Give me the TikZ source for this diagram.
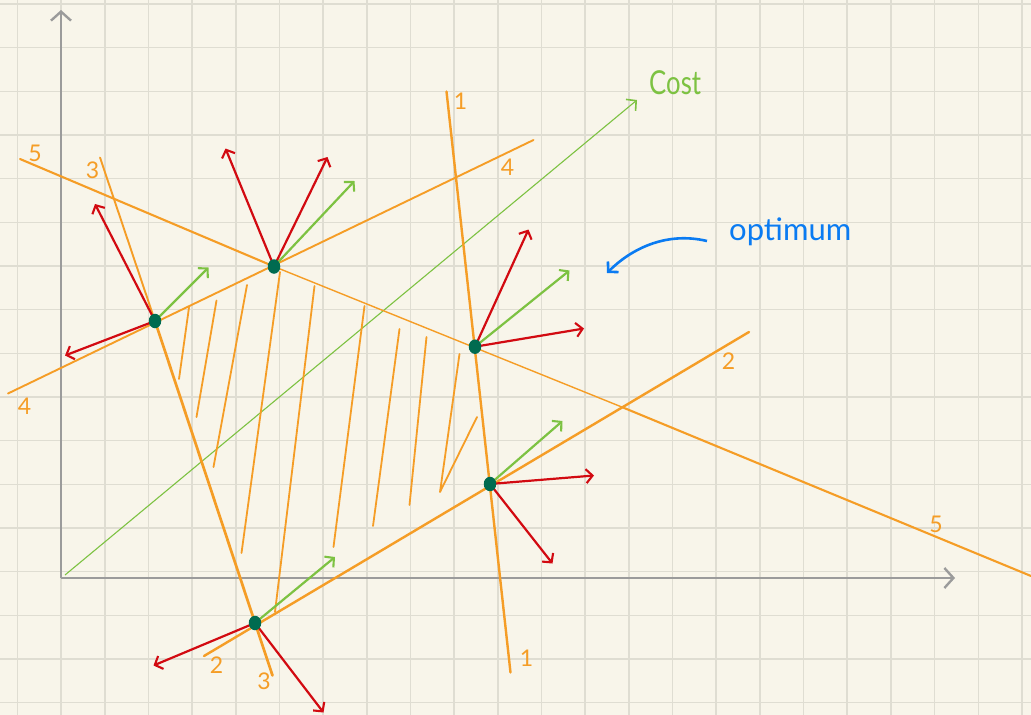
\documentclass[tikz,border=0pt]{standalone}
\usepackage{fontspec}
\setmainfont{Lato}
\usetikzlibrary{arrows.meta,shapes.geometric}
\definecolor{bg}{HTML}{F8F5EA}
\definecolor{gridc}{HTML}{DFDDD2}
\definecolor{axisc}{HTML}{9B9B9B}
\definecolor{orng}{HTML}{F59D26}
\definecolor{redv}{HTML}{D20A11}
\definecolor{grnv}{HTML}{7DC242}
\definecolor{dotc}{HTML}{006B50}
\definecolor{bluec}{HTML}{0A7BF2}
\tikzset{
  gridline/.style={draw=gridc, line width=1.5pt},
  axisline/.style={draw=axisc, line width=2.4pt, -{Straight Barb[length=9pt,width=20pt,line width=2.4pt]}},
  cline/.style={draw=orng, line width=2.4pt, line cap=round},
  clinethin/.style={draw=orng, line width=1.4pt},
  hatch/.style={draw=orng, line width=1.8pt, line cap=round, line join=round},
  redvec/.style={draw=redv, line width=2.2pt, -{Straight Barb[length=6.5pt,width=14pt,line width=2.1pt]}},
  grnvec/.style={draw=grnv, line width=2.2pt, -{Straight Barb[length=6.5pt,width=14pt,line width=2.1pt]}},
  costline/.style={draw=grnv, line width=1.1pt, -{Straight Barb[length=7pt,width=15pt,line width=1.6pt]}},
  bluearrow/.style={draw=bluec, line width=2.6pt, -{Straight Barb[length=7pt,width=15pt,line width=2.6pt]}},
  vdot/.style={ellipse, fill=dotc, inner sep=0pt, minimum width=12.5pt, minimum height=14.5pt},
  lbl/.style={text=orng, inner sep=0pt, font=\fontsize{23}{23}\selectfont},
}
\begin{document}
\begin{tikzpicture}[x=1pt,y=-1pt]
\fill[bg] (0,0) rectangle (1031,715);
\useasboundingbox (0,0) rectangle (1031,715);
\begin{scope}
\clip (0,0) rectangle (1031,715);
% grid
\foreach \k in {0,...,23} {\draw[gridline] ({17.5+43.67*\k},0) -- ({17.5+43.67*\k},715);}
\foreach \k in {0,...,16} {\draw[gridline] (0,{4+43.67*\k}) -- (1031,{4+43.67*\k});}

% axes
\coordinate (O) at (61,578);
\coordinate (ytip) at (61,10);
\coordinate (xtip) at (955,578);
\draw[axisline] (O) -- (ytip);
\draw[axisline] (O) -- (xtip);

% cost direction
\coordinate (cs) at (65,575);
\coordinate (ce) at (637,100);
\draw[costline] (cs) -- (ce);

% vertices
\coordinate (V1) at (155,321);
\coordinate (V2) at (274,266.5);
\coordinate (V3) at (475,346.7);
\coordinate (V4) at (490,484);
\coordinate (V5) at (255,623);

% constraint lines
\coordinate (a1) at (446.5,91.5);  \coordinate (b1) at (510.5,672.5);
\coordinate (a2) at (204,656);     \coordinate (b2) at (749,332);
\coordinate (a3) at (100,157.5);   \coordinate (b3) at (272.5,675.5);
\coordinate (a4) at (8,393.5);     \coordinate (b4) at (533.5,140);
\coordinate (a5) at (20,159);      \coordinate (b5) at (1031,576);
\coordinate (m5) at (623,407.5);
\draw[cline] (a1) -- (b1);
\draw[cline] (a2) -- (b2);
\draw[cline, line width=1.9pt] (a3) -- (V1);
\draw[cline, line width=2.7pt] (V1) -- (b3);
\draw[cline, line width=1.9pt] (a4) -- (b4);
\draw[cline, line width=2.1pt] (a5) -- (V2);
\draw[clinethin] (V2) -- (m5);
\draw[cline, line width=2.1pt] (m5) -- (b5);

% hatching
\coordinate (h1a) at (189,307.5);  \coordinate (h1b) at (179,379);
\coordinate (h2a) at (216.5,300.5);\coordinate (h2b) at (196.5,417);
\coordinate (h3a) at (247,285);    \coordinate (h3b) at (213.5,467);
\coordinate (h4a) at (280,272);    \coordinate (h4b) at (241.5,553);
\coordinate (h5a) at (314.5,286);  \coordinate (h5b) at (275,612);
\coordinate (h6a) at (364.5,306);  \coordinate (h6b) at (333.5,547);
\coordinate (h7a) at (399.5,329);  \coordinate (h7b) at (373,526);
\coordinate (h8a) at (426.5,337);  \coordinate (h8b) at (409.5,505);
\coordinate (h9a) at (459.5,354);  \coordinate (h9b) at (440,492); \coordinate (h9c) at (477,417);
\draw[hatch] (h1a) -- (h1b);
\draw[hatch] (h2a) -- (h2b);
\draw[hatch] (h3a) -- (h3b);
\draw[hatch] (h4a) -- (h4b);
\draw[hatch] (h5a) -- (h5b);
\draw[hatch] (h6a) -- (h6b);
\draw[hatch] (h7a) -- (h7b);
\draw[hatch] (h8a) -- (h8b);
\draw[hatch] (h9a) -- (h9b) -- (h9c);

% vectors at V1
\coordinate (r1a) at (95,204);    \coordinate (r1b) at (65,355.5);  \coordinate (g1) at (208.5,267.5);
\draw[redvec] (V1) -- (r1a);
\draw[redvec] (V1) -- (r1b);
\draw[grnvec] (V1) -- (g1);
% V2
\coordinate (r2a) at (225.5,148.5); \coordinate (r2b) at (327.5,157); \coordinate (g2) at (354.5,181);
\draw[redvec] (V2) -- (r2a);
\draw[redvec] (V2) -- (r2b);
\draw[grnvec] (V2) -- (g2);
% V3
\coordinate (r3a) at (528.5,229.5); \coordinate (r3b) at (584,328.5); \coordinate (g3) at (569.5,270.5);
\draw[redvec] (V3) -- (r3a);
\draw[redvec] (V3) -- (r3b);
\draw[grnvec] (V3) -- (g3);
% V4
\coordinate (r4a) at (594,475.5); \coordinate (r4b) at (552.5,563.5); \coordinate (g4) at (562.5,421);
\draw[redvec] (V4) -- (r4a);
\draw[redvec] (V4) -- (r4b);
\draw[grnvec] (V4) -- (g4);
% V5
\coordinate (r5a) at (153.5,665.5); \coordinate (r5b) at (323.5,712.5); \coordinate (g5) at (335,557);
\draw[redvec] (V5) -- (r5a);
\draw[redvec] (V5) -- (r5b);
\draw[grnvec] (V5) -- (g5);

% dots
\node[vdot] (d1) at (V1) {};
\node[vdot] (d2) at (V2) {};
\node[vdot] (d3) at (V3) {};
\node[vdot] (d4) at (V4) {};
\node[vdot] (d5) at (V5) {};

% line labels
\node[lbl] (l5a) at (35,153) {5};
\node[lbl] (l3a) at (92.5,170) {3};
\node[lbl] (l4a) at (24.5,406.5) {4};
\node[lbl] (l1a) at (460.5,101.5) {1};
\node[lbl] (l4b) at (507.5,167.5) {4};
\node[lbl] (l2b) at (728.5,361.5) {2};
\node[lbl] (l5b) at (936,524) {5};
\node[lbl] (l2a) at (216.5,665) {2};
\node[lbl] (l3b) at (264,681.5) {3};
\node[lbl] (l1b) at (526.5,658) {1};

% Cost label
\node[text=grnv, inner sep=0pt, anchor=base west, font=\fontsize{33}{33}\selectfont] (cost) at (649,94) {\scalebox{0.78}[1]{Cost}};

% Optimum
\node[text=bluec, inner sep=0pt, anchor=base west, font=\fontsize{31}{31}\selectfont] (opt) at (729,240) {optimum};
\coordinate (oa) at (707,241);
\coordinate (ob) at (607,273);
\draw[bluearrow] (oa) .. controls (665,231) and (630,250) .. (ob);
\end{scope}
\end{tikzpicture}
\end{document}
